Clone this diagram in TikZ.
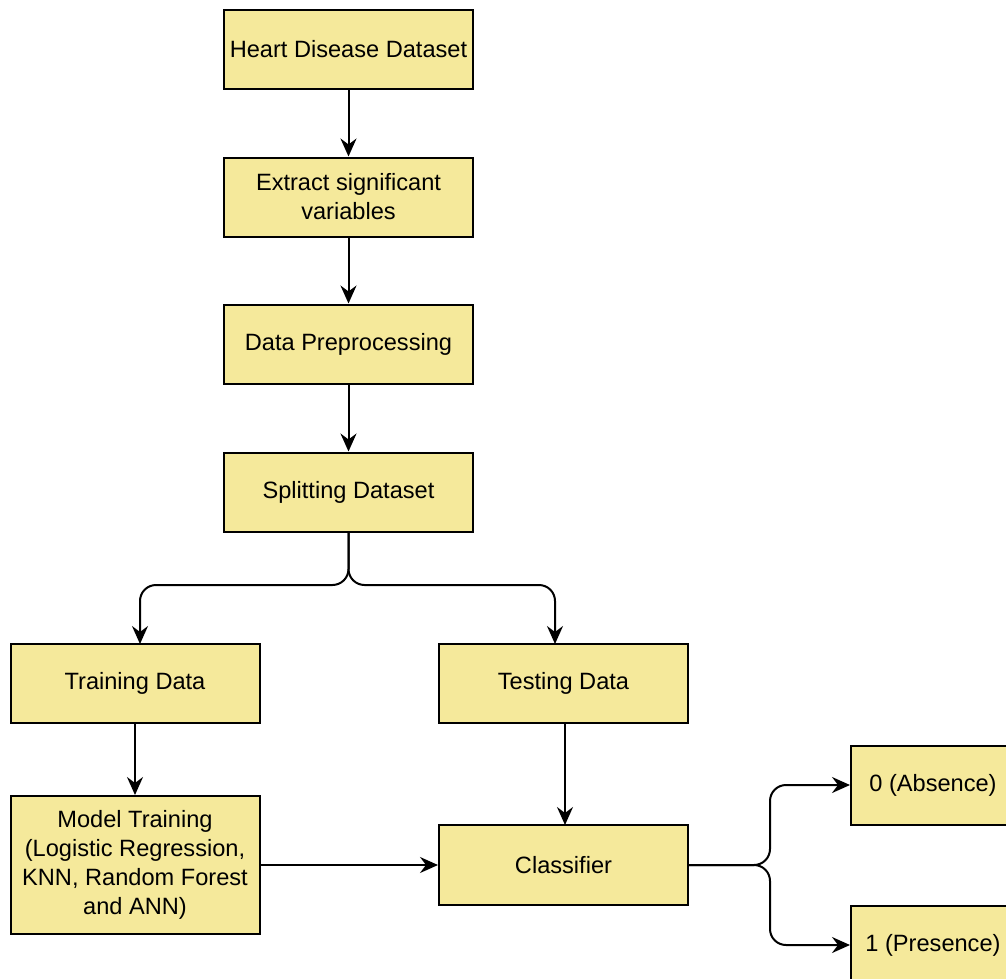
\documentclass[tikz,border=0pt]{standalone}
\usepackage{fontspec}
\setmainfont{Liberation Sans}
\usetikzlibrary{arrows.meta}
\definecolor{boxfill}{RGB}{245,233,155}
\tikzset{
  box/.style={draw=black, line width=2pt, fill=boxfill, minimum width=249pt, minimum height=79pt, inner sep=2pt, align=center, font=\fontsize{23.6}{29}\selectfont, anchor=center},
  conn/.style={line width=2pt, -{Stealth[length=18pt,width=16pt,inset=6pt]}, rounded corners=16pt}
}
\begin{document}
\begin{tikzpicture}[x=1pt,y=-1pt]
\useasboundingbox (0,0) rectangle (1006,979);
\node[box] (hd) at (348.5,49.5) {Heart Disease Dataset};
\node[box] (ex) at (348.5,197) {Extract significant\\variables};
\node[box] (dp) at (348.5,344) {Data Preprocessing};
\node[box] (sd) at (348.5,492) {Splitting Dataset};
\node[box] (tr) at (135,683.5) {Training Data};
\node[box] (te) at (563.5,683.5) {Testing Data};
\node[box, minimum height=138pt] (mt) at (135,865) {Model Training\\(Logistic Regression,\\KNN, Random Forest\\and ANN)};
\node[box, minimum height=80pt] (cl) at (563.5,865) {Classifier};
\node[box, minimum width=164pt] (ab) at (933,785) {0 (Absence)};
\node[box, minimum width=164pt] (pr) at (933,945) {1 (Presence)};
\draw[conn] (hd.south) -- (ex.north);
\draw[conn] (ex.south) -- (dp.north);
\draw[conn] (dp.south) -- (sd.north);
\coordinate (sp) at (348.5,585);
\draw[conn] (sd.south) -- (sp) -| (140,644);
\draw[conn] (sd.south) -- (sp) -| (555,644);
\draw[conn] (tr.south) -- (mt.north);
\draw[conn] (565,723) -- (565,825);
\draw[conn] (mt.east) -- (cl.west);
\coordinate (cs) at (770,865);
\draw[conn] (cl.east) -- (cs) |- (ab.west);
\draw[conn] (cl.east) -- (cs) |- (pr.west);
\end{tikzpicture}
\end{document}
